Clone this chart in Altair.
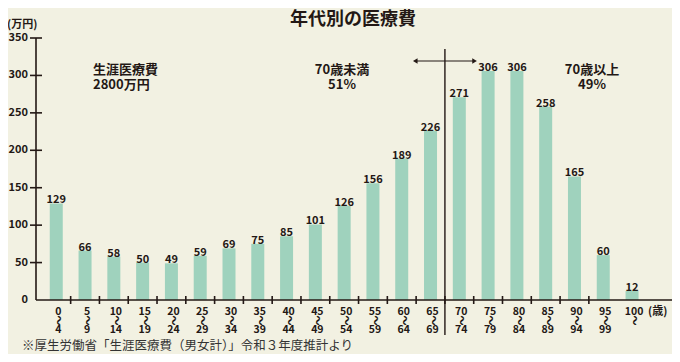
import altair as alt
import pandas as pd

# ---- data ----
age_start = ["0", "5", "10", "15", "20", "25", "30", "35", "40", "45", "50",
             "55", "60", "65", "70", "75", "80", "85", "90", "95", "100"]
age_end = ["4", "9", "14", "19", "24", "29", "34", "39", "44", "49", "54",
           "59", "64", "69", "74", "79", "84", "89", "94", "99", ""]
cost = [129, 66, 58, 50, 49, 59, 69, 75, 85, 101, 126,
        156, 189, 226, 271, 306, 306, 258, 165, 60, 12]
y_ticks = [0, 50, 100, 150, 200, 250, 300, 350]

title_text = "年代別の医療費"
unit_text = "(万円)"
age_unit = "(歳)"
note_text = "※厚生労働省「生涯医療費（男女計）」令和３年度推計より"
ann_total = ["生涯医療費", "2800万円"]
ann_under = ["70歳未満", "51%"]
ann_over = ["70歳以上", "49%"]

# ---- style ----
FONT = "Noto Sans CJK JP"
INK = "#231815"
BAR = "#9fd2bd"
BG = "#f2f1e2"
W, H = 636, 262

df = pd.DataFrame({
    "i": list(range(len(cost))),
    "start": age_start,
    "end": age_end,
    "wave": ["〜"] * len(cost),
    "cost": cost,
})
bounds = pd.DataFrame({"b": [k + 0.5 for k in range(len(cost) - 2)]})
yt = pd.DataFrame({"v": y_ticks})
yt_in = pd.DataFrame({"v": [v for v in y_ticks if v > 0]})
one = pd.DataFrame({"a": [0]})

xs = alt.Scale(domain=[-0.53, 21.214], nice=False, zero=False)
ys = alt.Scale(domain=[0, 350], nice=False)


def X(field):
    return alt.X(field, scale=xs, axis=None)


def Y(field):
    return alt.Y(field, scale=ys, axis=None)


bars = alt.Chart(df).mark_bar(color=BAR, size=13).encode(
    x=X("i:Q"), y=Y("cost:Q"))

vals = alt.Chart(df).mark_text(font=FONT, fontSize=11, fontWeight="bold",
                               color=INK, dy=-3).encode(
    x=X("i:Q"), y=Y("cost:Q"), text="cost:Q")

# axes drawn by hand
ylab = alt.Chart(yt).mark_text(font=FONT, fontSize=11, fontWeight="bold",
                               color=INK, align="right",
                               baseline="middle").encode(
    y=Y("v:Q"), x=alt.value(-8), text="v:Q")
ytick = alt.Chart(yt_in).mark_rule(color=INK, strokeWidth=1.6).encode(
    y=Y("v:Q"), x=alt.value(-6), x2=alt.value(6))
ydom = alt.Chart(one).mark_rule(color=INK, strokeWidth=1.6).encode(
    x=alt.value(0), y=alt.value(0), y2=alt.value(H))
xdom = alt.Chart(one).mark_rule(color=INK, strokeWidth=1.6).encode(
    x=alt.value(0), x2=alt.value(W), y=alt.value(H))
xtick = alt.Chart(bounds).mark_rule(color=INK, strokeWidth=1.6).encode(
    x=X("b:Q"), y=alt.value(H - 4), y2=alt.value(H + 4))

lab_kw = dict(font=FONT, fontSize=10.5, fontWeight="bold", color=INK,
              baseline="middle", align="center", dx=2)
lab1 = alt.Chart(df).mark_text(**lab_kw).encode(
    x=X("i:Q"), y=alt.value(273.5), text="start:N")
lab2 = alt.Chart(df).mark_text(font=FONT, fontSize=10, fontWeight="bold",
                               color=INK, baseline="middle", align="center",
                               angle=90, dx=0, dy=-2).encode(
    x=X("i:Q"), y=alt.value(282.5), text="wave:N")
lab3 = alt.Chart(df).mark_text(**lab_kw).encode(
    x=X("i:Q"), y=alt.value(292), text="end:N")

age_lab = alt.Chart(one).mark_text(font=FONT, fontSize=11, fontWeight="bold",
                                   color=INK, align="left",
                                   baseline="middle").encode(
    x=alt.value(612), y=alt.value(273.5), text=alt.value(age_unit))

divider = alt.Chart(one).mark_rule(color=INK, strokeWidth=1.4).encode(
    x=alt.datum(13.5), y=alt.value(11), y2=alt.value(297))
arrow = alt.Chart(one).mark_rule(color=INK, strokeWidth=1.2).encode(
    x=alt.datum(12.5), x2=alt.datum(14.5), y=alt.value(23))
head_l = alt.Chart(one).mark_point(shape="triangle-left", filled=True,
                                   color=INK, size=28, opacity=1).encode(
    x=alt.datum(12.47), y=alt.value(23))
head_r = alt.Chart(one).mark_point(shape="triangle-right", filled=True,
                                   color=INK, size=28, opacity=1).encode(
    x=alt.datum(14.53), y=alt.value(23))

ann_kw = dict(font=FONT, fontSize=13, fontWeight="bold", color=INK,
              baseline="middle")


def ann(lines, x, align):
    return [alt.Chart(one).mark_text(align=align, **ann_kw).encode(
        x=alt.value(x), y=alt.value(32 + 15 * k), text=alt.value(t))
        for k, t in enumerate(lines)]


anns = ann(ann_total, 57, "left") + ann(ann_under, 306, "center") + \
    ann(ann_over, 556, "center")

title = alt.Chart(one).mark_text(font=FONT, fontSize=18, fontWeight="bold",
                                 color=INK, align="center",
                                 baseline="middle").encode(
    x=alt.value(317), y=alt.value(-18), text=alt.value(title_text))
unit = alt.Chart(one).mark_text(font=FONT, fontSize=11, fontWeight="bold",
                                color=INK, align="left",
                                baseline="middle").encode(
    x=alt.value(-29), y=alt.value(-13), text=alt.value(unit_text))
note = alt.Chart(one).mark_text(font=FONT, fontSize=12.5, color="#333333",
                                align="left", baseline="middle").encode(
    x=alt.value(-14), y=alt.value(308), text=alt.value(note_text))

chart = alt.layer(
    bars, vals, ylab, ytick, ydom, xdom, xtick, lab1, lab2, lab3, age_lab,
    divider, arrow, head_l, head_r, *anns, title, unit, note,
).properties(
    width=W, height=H, autosize="none",
    padding={"left": 28, "top": 30, "right": 0, "bottom": 54},
    background=BG,
).configure_view(stroke=None)

chart.save("out.html", embed_options={"renderer": "svg", "actions": False})
